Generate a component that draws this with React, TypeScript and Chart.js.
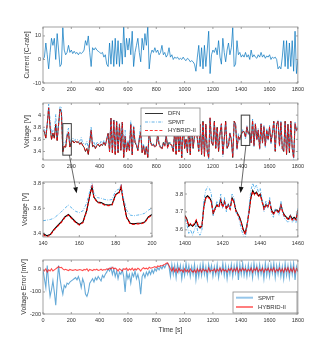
import React, { useEffect, useRef } from 'react';
import { Chart, registerables } from 'chart.js';

Chart.register(...registerables);

// ---------------- DATA ----------------
const T_STEP = 10;
const TIMES: number[] = Array.from({ length: 181 }, (_, i) => i * T_STEP);

const CURRENT = [
  0, 1, 7, 2, -4, 3, 9, 6, 9, 0,
  11, 4, -3, -2, 13.5, 4, 2, 3, 6, 3,
  4, 2.5, 3.5, 2.5, 3, 2, 3, 2.5, 3, 4,
  8, 6, 10, 3, -3, 5, 4, 5, 4, 3.5,
  3, 2.5, 3, 1, 2, -2, -3, 7, -2, 8,
  -3, 9, -2, 8, -3, 7, -2, 14, 1, 9,
  4, 9, 2, 12, -3, 3, 6, 9, 3, -1,
  9, 4, 11, 6, 14, -4, 2, 4, 3, 5,
  3, 4, 2, 3, 6, 2, 3, 1, 2, 5,
  1, 2, 0, 1, 0.5, 1, 0, 0.5, 0, 1,
  0, -0.5, 0.5, 0, -1, -0.5, -1, -2, -5, 1,
  6, -3, 5, -4, 6, -3, 4, 12, -6, 2,
  4, 3, 5, 2, 8, 1, -2, 9, 3, -1,
  4, 7, 2, 5, 13.5, -3, -2, 8, 2, 3,
  1, 2, 1, 3, 1, 2, 0, 4, 1, 2,
  1, 0.5, 2, 1, 3, 1, 2, 0.5, 1.5, 1,
  2, 0, 1, 0.5, 1, 0, -4, -3, -4, 1,
  8, -3, 8, -4, 7, -3, 8, -5, 12, -6,
  0,
];

const V_DFN = [
  3.75, 3.72, 3.62, 3.85, 4.12, 3.8, 3.6, 3.7, 3.62, 3.85,
  3.58, 3.85, 4.1, 4.05, 3.4, 3.49, 3.47, 3.65, 3.72, 3.475,
  3.55, 3.58, 3.54, 3.57, 3.55, 3.56, 3.52, 3.55, 3.5, 3.47,
  3.4, 3.45, 3.35, 3.55, 3.75, 3.48, 3.5, 3.45, 3.5, 3.52,
  3.48, 3.52, 3.5, 3.55, 3.5, 3.6, 3.7, 3.4, 3.95, 3.38,
  3.92, 3.35, 3.9, 3.38, 3.85, 3.42, 3.88, 3.3, 3.65, 3.4,
  3.55, 3.42, 3.85, 3.35, 3.8, 3.55, 3.5, 3.42, 3.6, 3.72,
  3.38, 3.5, 3.35, 3.48, 3.3, 3.75, 3.55, 3.5, 3.52, 3.48,
  3.5, 3.7, 3.52, 3.48, 3.45, 3.55, 3.5, 3.68, 3.48, 3.55,
  3.52, 3.5, 3.4, 3.75, 3.35, 3.85, 3.4, 3.7, 3.3, 3.9,
  3.45, 3.6, 3.38, 3.8, 3.35, 3.9, 3.45, 3.65, 3.95, 3.6,
  3.4, 3.85, 3.35, 3.9, 3.32, 3.85, 3.4, 3.3, 3.95, 3.55,
  3.5, 3.9, 3.45, 3.8, 3.4, 3.7, 3.85, 3.35, 3.6, 3.9,
  3.45, 3.5, 3.7, 3.6, 3.3, 3.9, 3.85, 3.45, 3.65, 3.6,
  3.68, 3.73, 3.73, 3.64, 3.8, 3.7, 3.71, 3.55, 3.9, 3.5,
  3.85, 3.6, 3.75, 3.45, 3.85, 3.55, 3.8, 3.5, 3.75, 3.6,
  3.8, 3.55, 3.7, 3.9, 3.4, 3.85, 3.9, 3.5, 3.88, 3.45,
  3.4, 3.9, 3.35, 3.85, 3.38, 3.9, 3.45, 3.3, 3.85, 3.75,
  3.78,
];

const V_SPMT = [
  3.75, 3.76, 3.7, 3.83, 4.18, 3.92, 3.69, 3.75, 3.72, 4.01,
  3.64, 3.83, 4.14, 4.13, 3.51, 3.56, 3.55, 3.71, 3.785, 3.53,
  3.6, 3.625, 3.58, 3.605, 3.595, 3.59, 3.57, 3.63, 3.54, 3.53,
  3.51, 3.57, 3.45, 3.61, 3.8, 3.52, 3.555, 3.485, 3.545, 3.55,
  3.52, 3.57, 3.525, 3.585, 3.52, 3.61, 3.695, 3.405, 3.94, 3.4,
  3.915, 3.38, 3.905, 3.42, 3.86, 3.44, 3.88, 3.33, 3.75, 3.41,
  3.59, 3.44, 3.91, 3.365, 3.83, 3.555, 3.54, 3.44, 3.65, 3.83,
  3.41, 3.515, 3.385, 3.49, 3.325, 3.755, 3.57, 3.5, 3.535, 3.475,
  3.505, 3.69, 3.52, 3.465, 3.445, 3.53, 3.49, 3.655, 3.45, 3.535,
  3.55, 3.475, 3.42, 3.73, 3.385, 3.825, 3.41, 3.68, 3.34, 3.885,
  3.475, 3.57, 3.395, 3.78, 3.38, 3.885, 3.47, 3.625, 3.995, 3.59,
  3.43, 3.83, 3.375, 3.87, 3.34, 3.835, 3.44, 3.275, 3.96, 3.53,
  3.53, 3.885, 3.47, 3.775, 3.435, 3.69, 3.865, 3.32, 3.625, 3.88,
  3.49, 3.485, 3.72, 3.575, 3.33, 3.88, 3.865, 3.42, 3.695, 3.575,
  3.66, 3.76, 3.72, 3.6, 3.83, 3.68, 3.72, 3.53, 3.935, 3.47,
  3.865, 3.58, 3.78, 3.425, 3.87, 3.535, 3.84, 3.47, 3.775, 3.58,
  3.83, 3.525, 3.715, 3.87, 3.435, 3.83, 3.92, 3.475, 3.91, 3.435,
  3.44, 3.87, 3.375, 3.83, 3.415, 3.875, 3.47, 3.27, 3.895, 3.735,
  3.79,
];

const V_HYBRID = [
  3.75, 3.725, 3.615, 3.86, 4.12, 3.805, 3.595, 3.705, 3.62, 3.845,
  3.57, 3.835, 4.09, 4.038, 3.395, 3.49, 3.467, 3.65, 3.723, 3.473,
  3.55, 3.582, 3.54, 3.568, 3.552, 3.56, 3.518, 3.55, 3.503, 3.468,
  3.4, 3.445, 3.355, 3.548, 3.75, 3.483, 3.498, 3.45, 3.497, 3.522,
  3.48, 3.517, 3.502, 3.548, 3.5, 3.595, 3.698, 3.392, 3.945, 3.368,
  3.915, 3.342, 3.897, 3.385, 3.845, 3.42, 3.885, 3.295, 3.648, 3.392,
  3.553, 3.415, 3.85, 3.342, 3.802, 3.545, 3.5, 3.412, 3.597, 3.725,
  3.375, 3.49, 3.345, 3.472, 3.297, 3.738, 3.542, 3.49, 3.508, 3.465,
  3.49, 3.682, 3.505, 3.46, 3.432, 3.528, 3.475, 3.65, 3.448, 3.53,
  3.515, 3.505, 3.39, 3.758, 3.345, 3.86, 3.392, 3.705, 3.3, 3.91,
  3.445, 3.608, 3.38, 3.81, 3.345, 3.905, 3.46, 3.65, 3.962, 3.595,
  3.408, 3.847, 3.36, 3.895, 3.325, 3.85, 3.41, 3.292, 3.958, 3.55,
  3.505, 3.895, 3.46, 3.797, 3.405, 3.692, 3.858, 3.345, 3.605, 3.9,
  3.46, 3.495, 3.703, 3.592, 3.308, 3.895, 3.855, 3.44, 3.66, 3.595,
  3.685, 3.722, 3.733, 3.635, 3.808, 3.697, 3.715, 3.542, 3.91, 3.495,
  3.853, 3.59, 3.758, 3.447, 3.855, 3.542, 3.81, 3.495, 3.753, 3.592,
  3.808, 3.545, 3.705, 3.89, 3.41, 3.847, 3.905, 3.492, 3.888, 3.445,
  3.41, 3.892, 3.355, 3.84, 3.39, 3.895, 3.458, 3.29, 3.862, 3.745,
  3.785,
];

const ERR_SPMT = [
  0, -40, -80, 20, -60, -120, -90, -50, -100, -160,
  -60, 20, -40, -80, -110, -70, -80, -60, -65, -55,
  -50, -45, -40, -35, -45, -30, -50, -80, -40, -60,
  -110, -120, -100, -60, -50, -40, -55, -35, -45, -30,
  -40, -50, -25, -35, -20, -10, 5, -5, 10, -20,
  5, -30, -5, -40, -10, -20, 0, -30, -100, -10,
  -40, -20, -60, -15, -30, -5, -40, -20, -50, -110,
  -30, -15, -35, -10, -25, -5, -20, 0, -15, 5,
  -5, 10, 0, 15, 5, 20, 10, 25, 30, 15,
  -30, 25, -20, 20, -35, 25, -10, 20, -40, 15,
  -25, 30, -15, 20, -30, 15, -20, 25, -45, 10,
  -30, 20, -25, 30, -20, 15, -40, 25, -10, 20,
  -30, 15, -20, 25, -35, 10, -15, 30, -25, 20,
  -40, 15, -20, 25, -30, 20, -15, 30, -45, 25,
  -20, 30, -25, 15, -30, 25, -20, 20, -35, 30,
  -15, 20, -30, 25, -20, 15, -40, 30, -25, 20,
  -30, 25, -15, 30, -35, 20, -20, 25, -30, 15,
  -40, 30, -25, 20, -35, 25, -20, 30, -45, 15,
  -10,
];

const ERR_HYBRID = [
  0, -5, 5, -10, 0, -5, 5, -5, 0, 5,
  10, 15, 10, 12, 5, 0, 3, 0, -3, 2,
  0, -2, 0, 2, -2, 0, 2, 0, -3, 2,
  0, 5, -5, 2, 0, -3, 2, 0, 3, -2,
  0, 3, -2, 2, 0, 5, 2, 8, 5, 12,
  5, 8, 3, -5, 5, 0, -5, 5, 2, 8,
  -3, 5, 0, 8, -2, 5, 0, 8, 3, -5,
  5, 10, 5, 8, 3, 12, 8, 10, 12, 15,
  10, 18, 15, 20, 18, 22, 25, 30, 32, 20,
  5, -5, 10, -8, 5, -10, 8, -5, 0, -10,
  5, -8, 0, -10, 5, -5, -10, 0, -12, 5,
  -8, 3, -10, 5, -5, 0, -10, 8, -8, 0,
  -5, 5, -10, 3, -5, 8, -8, 5, -5, 0,
  -10, 5, -3, 8, -8, 5, -5, 10, -10, 5,
  -5, 8, -3, 5, -8, 3, -5, 8, -10, 5,
  -3, 10, -8, 3, -5, 8, -10, 5, -3, 8,
  -8, 5, -5, 10, -10, 3, -5, 8, -8, 5,
  -10, 8, -5, 10, -10, 5, -8, 10, -12, 5,
  -5,
];

// left zoom 140-200 s
const ZL_T = [140, 142, 144, 146, 148, 150, 152, 154, 156, 158, 160, 162, 164, 166, 167, 168, 170, 172, 174, 176, 178, 180, 182, 183, 184, 186, 188, 190, 192, 194, 196, 198, 200];
const ZL_DFN = [3.4, 3.38, 3.39, 3.43, 3.46, 3.49, 3.53, 3.55, 3.52, 3.49, 3.47, 3.49, 3.58, 3.72, 3.77, 3.69, 3.65, 3.645, 3.63, 3.625, 3.63, 3.71, 3.73, 3.77, 3.68, 3.53, 3.48, 3.475, 3.48, 3.48, 3.49, 3.53, 3.55];
const ZL_SPMT = [3.5, 3.505, 3.51, 3.52, 3.545, 3.57, 3.6, 3.625, 3.6, 3.575, 3.565, 3.58, 3.64, 3.75, 3.8, 3.72, 3.685, 3.68, 3.67, 3.665, 3.67, 3.74, 3.755, 3.79, 3.7, 3.585, 3.545, 3.54, 3.545, 3.55, 3.56, 3.585, 3.6];
const ZL_HYBRID = [3.39, 3.37, 3.385, 3.425, 3.455, 3.485, 3.525, 3.545, 3.515, 3.485, 3.465, 3.485, 3.575, 3.72, 3.775, 3.685, 3.645, 3.64, 3.625, 3.62, 3.625, 3.705, 3.725, 3.775, 3.675, 3.525, 3.475, 3.47, 3.475, 3.475, 3.485, 3.525, 3.545];

// right zoom 1400-1460 s
const ZR_T: number[] = Array.from({ length: 61 }, (_, i) => 1400 + i);
const ZR_DFN = [
  3.68, 3.66, 3.62, 3.63, 3.62, 3.63, 3.65, 3.62, 3.61, 3.62,
  3.73, 3.78, 3.79, 3.78, 3.76, 3.69, 3.72, 3.74, 3.73, 3.77,
  3.73, 3.76, 3.72, 3.74, 3.72, 3.78, 3.76, 3.71, 3.69, 3.67,
  3.64, 3.6, 3.58, 3.63, 3.7, 3.78, 3.82, 3.8, 3.81, 3.79,
  3.8, 3.76, 3.72, 3.74, 3.73, 3.76, 3.71, 3.69, 3.71, 3.71,
  3.7, 3.74, 3.7, 3.68, 3.67, 3.66, 3.68, 3.66, 3.67, 3.66,
  3.71,
];
const ZR_SPMT = [
  3.66, 3.63, 3.58, 3.6, 3.57, 3.6, 3.63, 3.58, 3.57, 3.6,
  3.76, 3.82, 3.84, 3.83, 3.8, 3.68, 3.72, 3.76, 3.73, 3.8,
  3.72, 3.78, 3.7, 3.75, 3.71, 3.8, 3.78, 3.7, 3.68, 3.65,
  3.6, 3.57, 3.55, 3.62, 3.72, 3.82, 3.86, 3.83, 3.85, 3.81,
  3.83, 3.77, 3.7, 3.76, 3.72, 3.78, 3.69, 3.67, 3.72, 3.7,
  3.68, 3.76, 3.69, 3.66, 3.65, 3.64, 3.68, 3.64, 3.66, 3.64,
  3.72,
];
const ZR_HYBRID = [
  3.675, 3.655, 3.625, 3.635, 3.625, 3.635, 3.655, 3.625, 3.615, 3.625,
  3.725, 3.775, 3.785, 3.775, 3.755, 3.695, 3.715, 3.735, 3.725, 3.765,
  3.725, 3.755, 3.715, 3.735, 3.715, 3.775, 3.755, 3.705, 3.685, 3.665,
  3.635, 3.595, 3.575, 3.625, 3.695, 3.775, 3.815, 3.795, 3.805, 3.785,
  3.795, 3.755, 3.715, 3.735, 3.725, 3.755, 3.705, 3.685, 3.705, 3.705,
  3.695, 3.735, 3.695, 3.675, 3.665, 3.655, 3.675, 3.655, 3.665, 3.655,
  3.705,
];

// ticks and ranges
const X_TICKS_MAIN = [0, 200, 400, 600, 800, 1000, 1200, 1400, 1600, 1800];
const Y_TICKS_CUR = [-10, 0, 10];
const Y_TICKS_V = [3.4, 3.6, 3.8, 4];
const X_TICKS_ZL = [140, 160, 180, 200];
const Y_TICKS_ZL = [3.4, 3.6, 3.8];
const X_TICKS_ZR = [1400, 1420, 1440, 1460];
const Y_TICKS_ZR = [3.6, 3.7, 3.8];
const Y_TICKS_ERR = [-200, -100, 0];

const X_RANGE_MAIN = [0, 1800];
const Y_RANGE_CUR = [-10, 13.8];
const Y_RANGE_V = [3.26, 4.2];
const X_RANGE_ZL = [140, 200];
const Y_RANGE_ZL = [3.37, 3.81];
const X_RANGE_ZR = [1400, 1460];
const Y_RANGE_ZR = [3.56, 3.867];
const Y_RANGE_ERR = [-200, 45];

// zoom boxes drawn on the voltage panel, and arrow targets on zoom panels
const ZOOM_BOXES = [
  { t0: 140, t1: 200, v0: 3.34, v1: 3.86, fromT: 186, toT: 158.5, toV: 3.72, panel: 'zl' },
  { t0: 1400, t1: 1460, v0: 3.5, v1: 4.0, fromT: 1433, toT: 1429.5, toV: 3.806, panel: 'zr' },
];

// ---------------- STYLE / LAYOUT ----------------
const TEXT = '#333333';
const AXIS = '#8a8a8a';
const FONT_FAMILY = '"Liberation Sans", Arial, Helvetica, sans-serif';
const TICK_FONT = { family: FONT_FAMILY, size: 5.5 };
const TITLE_FONT = { family: FONT_FAMILY, size: 6.8 };
const LEGEND_FONT_SIZE = 6;

type Geo = { L: number; T: number; R: number; B: number; yW: number; xH: number; padT: number; padR: number; padB: number };

const GEO: Record<string, Geo> = {
  cur: { L: 43, T: 27, R: 298, B: 83, yW: 20, xH: 10, padT: 6, padR: 9, padB: 0 },
  volt: { L: 43, T: 103, R: 298, B: 160, yW: 20, xH: 10, padT: 6, padR: 9, padB: 30 },
  zl: { L: 43, T: 182, R: 152, B: 237, yW: 22, xH: 10, padT: 6, padR: 8, padB: 0 },
  zr: { L: 185, T: 182, R: 298, B: 237, yW: 14, xH: 10, padT: 6, padR: 9, padB: 0 },
  err: { L: 43, T: 260, R: 298, B: 314, yW: 23, xH: 20, padT: 6, padR: 9, padB: 0 },
};
const RANGES: Record<string, { x: number[]; y: number[] }> = {
  zl: { x: X_RANGE_ZL, y: Y_RANGE_ZL },
  zr: { x: X_RANGE_ZR, y: Y_RANGE_ZR },
};

function canvasBox(g: Geo) {
  return {
    left: g.L - g.yW,
    top: g.T - g.padT,
    width: g.yW + (g.R - g.L) + g.padR,
    height: g.padT + (g.B - g.T) + g.xH + g.padB,
  };
}

const fmt = (v: number) => String(Math.round(v * 1000) / 1000);
const xy = (xs: number[], ys: number[]) => xs.map((x, i) => ({ x, y: ys[i] }));

function axis(g: Geo, horizontal: boolean, range: number[], ticks: number[], title?: string) {
  return {
    type: 'linear',
    min: range[0],
    max: range[1],
    grid: { display: false, drawTicks: false },
    border: { display: false },
    ticks: { padding: horizontal ? 3 : 2, font: TICK_FONT, color: TEXT, maxRotation: 0, autoSkip: false, callback: (v: number) => fmt(v) },
    afterBuildTicks: (s: any) => { s.ticks = ticks.map((v) => ({ value: v })); },
    afterFit: (s: any) => { if (horizontal) s.height = g.xH; else s.width = g.yW; },
    title: title ? { display: true, text: title, font: TITLE_FONT, color: TEXT, padding: 0 } : { display: false },
  };
}

const boxPlugin = {
  id: 'matlabBox',
  afterDatasetsDraw(chart: any) {
    const { ctx, chartArea: a, scales } = chart;
    const TL = 2;
    ctx.save();
    ctx.strokeStyle = AXIS;
    ctx.lineWidth = 0.8;
    ctx.setLineDash([]);
    ctx.strokeRect(a.left, a.top, a.right - a.left, a.bottom - a.top);
    ctx.beginPath();
    scales.x.ticks.forEach((t: any) => {
      const px = scales.x.getPixelForValue(t.value);
      ctx.moveTo(px, a.bottom); ctx.lineTo(px, a.bottom - TL);
      ctx.moveTo(px, a.top); ctx.lineTo(px, a.top + TL);
    });
    scales.y.ticks.forEach((t: any) => {
      const py = scales.y.getPixelForValue(t.value);
      ctx.moveTo(a.left, py); ctx.lineTo(a.left + TL, py);
      ctx.moveTo(a.right, py); ctx.lineTo(a.right - TL, py);
    });
    ctx.stroke();
    ctx.restore();
  },
};

function drawLegend(chart: any, box: { x: number; y: number; w: number; h: number }, first: number, gap: number, lx0: number, lx1: number, tx: number) {
  const { ctx } = chart;
  ctx.save();
  ctx.fillStyle = '#ffffff';
  ctx.fillRect(box.x, box.y, box.w, box.h);
  ctx.strokeStyle = AXIS;
  ctx.lineWidth = 0.8;
  ctx.setLineDash([]);
  ctx.strokeRect(box.x, box.y, box.w, box.h);
  ctx.font = `${LEGEND_FONT_SIZE}px ${FONT_FAMILY}`;
  ctx.textBaseline = 'middle';
  ctx.textAlign = 'left';
  chart.data.datasets.forEach((ds: any, i: number) => {
    const y = box.y + first + i * gap;
    ctx.beginPath();
    ctx.setLineDash(ds.borderDash || []);
    ctx.strokeStyle = ds.legendColor || ds.borderColor;
    ctx.lineWidth = ds.legendWidth || ds.borderWidth;
    ctx.moveTo(box.x + lx0, y);
    ctx.lineTo(box.x + lx1, y);
    ctx.stroke();
    ctx.setLineDash([]);
    ctx.fillStyle = TEXT;
    ctx.fillText(ds.label, box.x + tx, y + 0.3);
  });
  ctx.restore();
}

const voltLegendPlugin = {
  id: 'voltLegend',
  afterDraw(chart: any) {
    const a = chart.chartArea;
    drawLegend(chart, { x: a.left + 98, y: a.top + 5, w: 59, h: 28 }, 5.5, 8.5, 4, 22, 27);
  },
};

const errLegendPlugin = {
  id: 'errLegend',
  afterDraw(chart: any) {
    const a = chart.chartArea;
    drawLegend(chart, { x: a.left + 190, y: a.top + 32, w: 64, h: 21 }, 5.7, 9.3, 3, 20, 25);
  },
};

function pagePoint(panel: string, t: number, v: number) {
  const g = GEO[panel];
  const r = RANGES[panel];
  return {
    x: g.L + ((t - r.x[0]) / (r.x[1] - r.x[0])) * (g.R - g.L),
    y: g.T + ((r.y[1] - v) / (r.y[1] - r.y[0])) * (g.B - g.T),
  };
}

const zoomMarksPlugin = {
  id: 'zoomMarks',
  afterDraw(chart: any) {
    const { ctx, scales } = chart;
    const origin = canvasBox(GEO.volt);
    ctx.save();
    ZOOM_BOXES.forEach((zb) => {
      const x0 = scales.x.getPixelForValue(zb.t0);
      const x1 = scales.x.getPixelForValue(zb.t1);
      const y0 = scales.y.getPixelForValue(zb.v1);
      const y1 = scales.y.getPixelForValue(zb.v0);
      ctx.setLineDash([]);
      ctx.strokeStyle = '#3c3c3c';
      ctx.lineWidth = 1;
      ctx.strokeRect(x0, y0, x1 - x0, y1 - y0);
      // arrow
      const sx = scales.x.getPixelForValue(zb.fromT);
      const sy = y1;
      const tp = pagePoint(zb.panel, zb.toT, zb.toV);
      const ex = tp.x - origin.left;
      const ey = tp.y - origin.top;
      const ang = Math.atan2(ey - sy, ex - sx);
      const hl = 6;
      const hw = 2.4;
      const bx = ex - hl * Math.cos(ang);
      const by = ey - hl * Math.sin(ang);
      ctx.strokeStyle = '#262626';
      ctx.lineWidth = 0.7;
      ctx.beginPath();
      ctx.moveTo(sx, sy);
      ctx.lineTo(bx, by);
      ctx.stroke();
      ctx.fillStyle = '#111111';
      ctx.beginPath();
      ctx.moveTo(ex, ey);
      ctx.lineTo(bx + hw * Math.sin(ang), by - hw * Math.cos(ang));
      ctx.lineTo(bx - hw * Math.sin(ang), by + hw * Math.cos(ang));
      ctx.closePath();
      ctx.fill();
    });
    ctx.restore();
  },
};

function baseOptions(g: Geo, xAxis: any, yAxis: any) {
  return {
    responsive: false,
    maintainAspectRatio: false,
    animation: false,
    devicePixelRatio: 1,
    events: [],
    layout: { padding: { left: 0, top: g.padT, right: g.padR, bottom: g.padB } },
    plugins: { legend: { display: false }, tooltip: { enabled: false }, title: { display: false } },
    elements: { point: { radius: 0 }, line: { tension: 0 } },
    scales: { x: xAxis, y: yAxis },
  };
}

const DFN_C = '#000000';
const SPMT_C = 'rgb(60,160,225)';
const HYB_C = 'rgb(255,0,0)';
const SPMT_DASH = [3, 1.4, 0.8, 1.4];
const HYB_DASH = [3, 1.8];

function currentConfig(): any {
  const g = GEO.cur;
  return {
    type: 'line',
    data: { datasets: [{ label: 'Current', data: xy(TIMES, CURRENT), borderColor: '#0072BD', borderWidth: 0.7, pointRadius: 0 }] },
    options: baseOptions(g, axis(g, true, X_RANGE_MAIN, X_TICKS_MAIN), axis(g, false, Y_RANGE_CUR, Y_TICKS_CUR, 'Current [C-rate]')),
    plugins: [boxPlugin],
  };
}

function voltageConfig(): any {
  const g = GEO.volt;
  return {
    type: 'line',
    data: {
      datasets: [
        { label: 'DFN', data: xy(TIMES, V_DFN), borderColor: DFN_C, borderWidth: 0.8, pointRadius: 0, order: 3 },
        { label: 'SPMT', data: xy(TIMES, V_SPMT), borderColor: SPMT_C, borderWidth: 0.8, borderDash: SPMT_DASH, pointRadius: 0, order: 2 },
        { label: 'HYBRID-II', data: xy(TIMES, V_HYBRID), borderColor: HYB_C, borderWidth: 0.8, borderDash: HYB_DASH, pointRadius: 0, order: 1 },
      ],
    },
    options: baseOptions(g, axis(g, true, X_RANGE_MAIN, X_TICKS_MAIN), axis(g, false, Y_RANGE_V, Y_TICKS_V, 'Voltage [V]')),
    plugins: [boxPlugin, voltLegendPlugin, zoomMarksPlugin],
  };
}

function zoomConfig(key: string, xs: number[], dfn: number[], spmt: number[], hyb: number[], xr: number[], yr: number[], xt: number[], yt: number[], title?: string): any {
  const g = GEO[key];
  return {
    type: 'line',
    data: {
      datasets: [
        { label: 'DFN', data: xy(xs, dfn), borderColor: DFN_C, borderWidth: 1.1, pointRadius: 0, order: 3 },
        { label: 'SPMT', data: xy(xs, spmt), borderColor: 'rgb(95,180,235)', borderWidth: 1, borderDash: SPMT_DASH, pointRadius: 0, order: 2 },
        { label: 'HYBRID-II', data: xy(xs, hyb), borderColor: HYB_C, borderWidth: 1.1, borderDash: HYB_DASH, pointRadius: 0, order: 1 },
      ],
    },
    options: baseOptions(g, axis(g, true, xr, xt), axis(g, false, yr, yt, title)),
    plugins: [boxPlugin],
  };
}

function errorConfig(): any {
  const g = GEO.err;
  return {
    type: 'line',
    data: {
      datasets: [
        { label: 'SPMT', data: xy(TIMES, ERR_SPMT), borderColor: 'rgba(0,114,189,0.6)', borderWidth: 1.1, pointRadius: 0, order: 2, legendColor: 'rgba(80,160,220,0.6)', legendWidth: 2 },
        { label: 'HYBRID-II', data: xy(TIMES, ERR_HYBRID), borderColor: 'rgba(255,0,0,0.7)', borderWidth: 1.1, pointRadius: 0, order: 1, legendColor: 'rgba(255,40,40,0.75)', legendWidth: 1.6 },
      ],
    },
    options: baseOptions(g, axis(g, true, X_RANGE_MAIN, X_TICKS_MAIN, 'Time [s]'), axis(g, false, Y_RANGE_ERR, Y_TICKS_ERR, 'Voltage Error [mV]')),
    plugins: [boxPlugin, errLegendPlugin],
  };
}

function canvasStyle(g: Geo, z: number): React.CSSProperties {
  const b = canvasBox(g);
  return { position: 'absolute', left: b.left, top: b.top, width: b.width, height: b.height, zIndex: z };
}

export default function App() {
  const rCur = useRef<HTMLCanvasElement>(null);
  const rVolt = useRef<HTMLCanvasElement>(null);
  const rZl = useRef<HTMLCanvasElement>(null);
  const rZr = useRef<HTMLCanvasElement>(null);
  const rErr = useRef<HTMLCanvasElement>(null);

  useEffect(() => {
    const charts: Chart[] = [];
    charts.push(new Chart(rCur.current as HTMLCanvasElement, currentConfig()));
    charts.push(new Chart(rZl.current as HTMLCanvasElement, zoomConfig('zl', ZL_T, ZL_DFN, ZL_SPMT, ZL_HYBRID, X_RANGE_ZL, Y_RANGE_ZL, X_TICKS_ZL, Y_TICKS_ZL, 'Voltage [V]')));
    charts.push(new Chart(rZr.current as HTMLCanvasElement, zoomConfig('zr', ZR_T, ZR_DFN, ZR_SPMT, ZR_HYBRID, X_RANGE_ZR, Y_RANGE_ZR, X_TICKS_ZR, Y_TICKS_ZR)));
    charts.push(new Chart(rErr.current as HTMLCanvasElement, errorConfig()));
    charts.push(new Chart(rVolt.current as HTMLCanvasElement, voltageConfig()));
    return () => charts.forEach((c) => c.destroy());
  }, []);

  const dims = (g: Geo) => { const b = canvasBox(g); return { width: b.width, height: b.height }; };

  return (
    <div style={{ position: 'fixed', left: 0, top: 0, width: 331, height: 353, background: '#ffffff', overflow: 'hidden' }}>
      <canvas ref={rCur} {...dims(GEO.cur)} style={canvasStyle(GEO.cur, 1)} />
      <canvas ref={rZl} {...dims(GEO.zl)} style={canvasStyle(GEO.zl, 1)} />
      <canvas ref={rZr} {...dims(GEO.zr)} style={canvasStyle(GEO.zr, 1)} />
      <canvas ref={rErr} {...dims(GEO.err)} style={canvasStyle(GEO.err, 1)} />
      <canvas ref={rVolt} {...dims(GEO.volt)} style={canvasStyle(GEO.volt, 2)} />
    </div>
  );
}
